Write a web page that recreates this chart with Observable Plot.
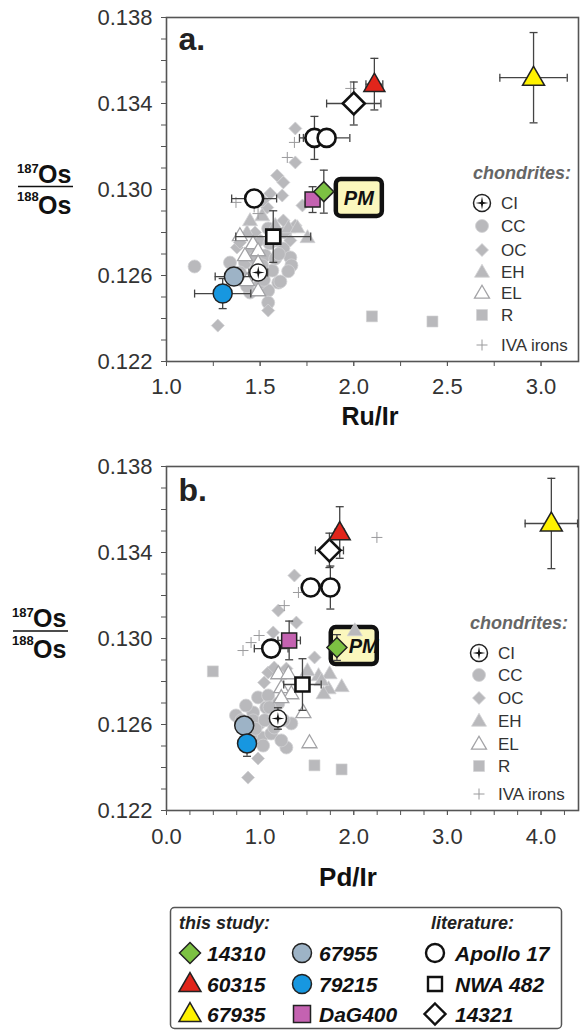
<!DOCTYPE html>
<html><head><meta charset="utf-8">
<script src="https://cdn.jsdelivr.net/npm/d3@7"></script>
<script src="https://cdn.jsdelivr.net/npm/@observablehq/plot@0.6"></script>
<style>
body{margin:0;background:#fff;}
#root{position:relative;width:580px;height:1034px;overflow:hidden;background:#fff;}
</style></head>
<body><div id="root"></div>
<script>
// ---------------- DATA ----------------
const sampleNames = ["14310","60315","67935","67955","79215","DaG400"];
// panel a (Ru/Ir)
const ruIr    = [1.84, 2.11, 2.96, 1.36, 1.30, 1.78];
const ruIrErr = [0.03, 0.045, 0.18, 0.10, 0.15, 0.03];
const osA     = [0.1299, 0.1349, 0.1352, 0.12595, 0.12516, 0.12953];
const osErrA  = [0.0010, 0.0012, 0.0021, 0.0003, 0.0007, 0.0006];
// panel b (Pd/Ir)
const pdIr    = [1.82, 1.85, 4.11, 0.83, 0.86, 1.31];
const pdIrErr = [0.03, 0.05, 0.28, 0.03, 0.03, 0.12];
const osB     = [0.12958, 0.13493, 0.13535, 0.12595, 0.12512, 0.12991];
const osErrB  = [0.0006, 0.0012, 0.0021, 0.0003, 0.0006, 0.0009];

// literature: Apollo 17 (x3), NWA 482, 14321
const litNames = ["Apollo 17","Apollo 17","Apollo 17","NWA 482","14321"];
const litRuIr    = [1.79, 1.855, 1.468, 1.57, 2.00];
const litRuIrErr = [0.08, 0.124, 0.12, 0.20, 0.145];
const litOsA     = [0.1324, 0.1324, 0.12958, 0.12781, 0.1340];
const litOsErrA  = [0.0010, 0, 0.0003, 0.0012, 0.0010];
const litPdIr    = [1.54, 1.75, 1.118, 1.452, 1.74];
const litPdIrErr = [0.05, 0.05, 0.18, 0.20, 0.15];
const litOsB     = [0.13237, 0.13237, 0.12953, 0.12786, 0.1341];
const litOsErrB  = [0, 0.0010, 0.0003, 0.0012, 0.0008];

// CI chondrite mean [ratio, ratioErr, Os, OsErr]
const ciA = [1.49, 0.05, 0.12614, 0.0003];
const ciB = [1.19, 0.08, 0.12628, 0.0005];

// primitive mantle label anchor [ratio, Os]
const pmA = [2.027, 0.12963];
const pmB = [2.00, 0.12967];

// chondrites, panel a: [Ru/Ir, 187Os/188Os]
const ccA = [[1.15,0.12642],[1.446,0.12521],[1.543,0.1253],[1.543,0.12474],[1.597,0.12567],[1.624,0.12726],[1.661,0.12684],[1.667,0.12647],[1.608,0.12572],[1.527,0.12693],[1.462,0.12716],[1.419,0.1266],[1.565,0.12623],[1.50,0.12567],[1.581,0.12763],[1.489,0.12763],[1.634,0.128],[1.543,0.12819],[1.392,0.12614],[1.339,0.1266],[1.511,0.12647],[1.581,0.12679],[1.473,0.12614],[1.43,0.1255],[1.60,0.1270],[1.55,0.1275],[1.65,0.1262],[1.52,0.1258],[1.47,0.1268]];
const ocA = [[1.688,0.13284],[1.688,0.13126],[1.591,0.13065],[1.624,0.13033],[1.618,0.12972],[1.554,0.12981],[1.538,0.12916],[1.516,0.12949],[1.624,0.12856],[1.688,0.12833],[1.726,0.12926],[1.376,0.1273],[1.392,0.12753],[1.543,0.12437],[1.274,0.12367],[1.473,0.128],[1.661,0.12763]];
const ehA = [[1.446,0.12856],[1.511,0.12879],[1.581,0.12833],[1.651,0.12823],[1.699,0.12823],[1.753,0.12777],[1.43,0.128]];
const elA = [[1.392,0.12786],[1.462,0.12749],[1.489,0.12716],[1.489,0.1266],[1.489,0.1253],[1.43,0.12577],[1.419,0.12693]];
const rA  = [[2.097,0.1241],[2.42,0.12386]];
const ivaA = [[1.984,0.1347],[1.683,0.13219],[1.645,0.13149],[1.468,0.12919],[1.371,0.1294],[1.489,0.12888]];

// chondrites, panel b: [Pd/Ir, 187Os/188Os]
const ccB = [[0.742,0.12642],[0.925,0.12656],[0.978,0.12726],[1.086,0.12735],[0.989,0.12605],[1.011,0.1254],[1.118,0.12558],[1.28,0.12493],[1.333,0.12605],[1.194,0.12698],[1.065,0.12679],[0.925,0.12619],[1.151,0.12586],[0.849,0.12688],[1.032,0.12502],[1.226,0.12526],[0.903,0.12549],[1.10,0.1268],[0.95,0.1258],[1.05,0.1262],[1.25,0.1262],[0.80,0.1262]];
const ocB = [[1.366,0.13293],[1.194,0.1313],[1.387,0.13074],[1.14,0.13028],[1.581,0.12912],[1.086,0.12842],[1.151,0.12865],[0.978,0.12442],[0.871,0.12353],[1.043,0.12795],[1.28,0.1286]];
const ehB = [[1.624,0.12828],[1.742,0.12837],[1.871,0.12777],[1.731,0.12767],[1.677,0.12744],[1.656,0.12805],[2.011,0.13037],[1.505,0.12851]];
const elB = [[1.527,0.12516],[1.194,0.12837],[1.301,0.12837],[1.226,0.12772],[1.333,0.12744],[1.462,0.12656],[1.226,0.12726]];
const rB  = [[0.495,0.12847],[1.58,0.1241],[1.87,0.12391]];
const ivaB = [[0.817,0.12944],[0.903,0.12981],[0.989,0.13014],[1.409,0.13214],[1.258,0.13153],[2.247,0.1347]];

// ticks
const yMajor = [0.122, 0.126, 0.130, 0.134, 0.138];
const xMajorA = [1.0, 1.5, 2.0, 2.5, 3.0];
const xMajorB = [0, 1, 2, 3, 4];
const chondriteLabels = ["CI","CC","OC","EH","EL","R","IVA irons"];

// ---------------- SYMBOLS ----------------
function tri(w){return {draw(c){const h=w*Math.sqrt(3)/2; c.moveTo(0,-h*0.6); c.lineTo(w/2,h*0.4); c.lineTo(-w/2,h*0.4); c.closePath();}};}
function dia(w){const r=w/2; return {draw(c){c.moveTo(0,-r);c.lineTo(r,0);c.lineTo(0,r);c.lineTo(-r,0);c.closePath();}};}
function sq(w){return {draw(c){c.moveTo(-w/2,-w/2);c.lineTo(w/2,-w/2);c.lineTo(w/2,w/2);c.lineTo(-w/2,w/2);c.closePath();}};}
function circ(r){return {draw(c){c.moveTo(r,0);c.arc(0,0,r,0,2*Math.PI);c.closePath();}};}
function plus(r){return {draw(c){c.moveTo(-r,0);c.lineTo(r,0);c.moveTo(0,-r);c.lineTo(0,r);}};}
function hbar(r){return {draw(c){c.moveTo(-r,0);c.lineTo(r,0);}};}
function vbar(r){return {draw(c){c.moveTo(0,-r);c.lineTo(0,r);}};}
function star4(R,r){return {draw(c){for(let k=0;k<8;k++){const a=k*Math.PI/4-Math.PI/2;const rr=k%2?r:R;const x=rr*Math.cos(a),y=rr*Math.sin(a);if(k)c.lineTo(x,y);else c.moveTo(x,y);}c.closePath();}};}
function rrect(w,h,rad){return {draw(c){const x0=-w/2,y0=-h/2,x1=w/2,y1=h/2;c.moveTo(x0+rad,y0);c.lineTo(x1-rad,y0);c.arcTo(x1,y0,x1,y0+rad,rad);c.lineTo(x1,y1-rad);c.arcTo(x1,y1,x1-rad,y1,rad);c.lineTo(x0+rad,y1);c.arcTo(x0,y1,x0,y1-rad,rad);c.lineTo(x0,y0+rad);c.arcTo(x0,y0,x0+rad,y0,rad);c.closePath();}};}

const FONT = '"Liberation Sans", Arial, Helvetica, sans-serif';
const GRAY = "#b9b9bc";
const sStyle = {
  "14310": {sym: dia(20), fill: "#7cc142"},
  "60315": {sym: tri(21), fill: "#e1251b"},
  "67935": {sym: tri(22), fill: "#fff200"},
  "67955": {sym: circ(9.5), fill: "#9db3c6"},
  "79215": {sym: circ(9.5), fill: "#1797e0"},
  "DaG400": {sym: sq(15), fill: "#c462b1"}
};
const litStyle = {"Apollo 17": circ(9), "NWA 482": sq(14), "14321": dia(22)};
const chondStyle = [
  {sym: circ(6.5), fill: GRAY, stroke: "#d2d2d4", sw: 0.8},
  {sym: dia(13), fill: GRAY, stroke: "#d2d2d4", sw: 0.8},
  {sym: tri(15), fill: GRAY, stroke: "#d2d2d4", sw: 0.8},
  {sym: tri(15), fill: "#fff", stroke: "#a3a3a6", sw: 1.3},
  {sym: sq(11), fill: GRAY, stroke: "#d2d2d4", sw: 0.6},
  {sym: plus(5.5), fill: "none", stroke: "#9a9a9c", sw: 1}
];

const root = document.getElementById("root");

function buildPanel(cfg){
  const rows = sampleNames.map((n,i)=>({n, x:cfg.x[i], xe:cfg.xe[i], y:cfg.y[i], ye:cfg.ye[i]}));
  const lit = litNames.map((n,i)=>({n, x:cfg.litX[i], xe:cfg.litXe[i], y:cfg.litY[i], ye:cfg.litYe[i]}));
  const ci = [{n:"CI", x:cfg.ci[0], xe:cfg.ci[1], y:cfg.ci[2], ye:cfg.ci[3]}];
  const all = [...lit, ...ci, ...rows];
  const pts = arr => arr.map(([x,y])=>({x,y}));
  const cats = [cfg.CC, cfg.OC, cfg.EH, cfg.EL, cfg.R, cfg.IVA];
  const yMinor = d3.range(122,139).map(v=>v/1000);
  const EB = "#444";
  const marks = [
    Plot.frame({stroke:"#555", strokeWidth:1.6}),
    Plot.axisY({ticks:yMinor, tickSize:5, tickFormat:()=>"", label:null, stroke:"#555"}),
    Plot.axisY({ticks:yMajor, tickSize:5, tickPadding:9, tickFormat:d3.format(".3f"), label:null, stroke:"#555"}),
    Plot.axisX({ticks:cfg.xMinor, tickSize:5, tickFormat:()=>"", label:null, stroke:"#555"}),
    Plot.axisX({ticks:cfg.xMajor, tickSize:5, tickPadding:cfg.xPad, tickFormat:d3.format(".1f"), label:null, stroke:"#555"}),
    Plot.dot([{x:cfg.pm[0], y:cfg.pm[1]}], {x:"x", y:"y", symbol:rrect(46,37,5), fill:"#fbf7bd", stroke:"#111", strokeWidth:4.5}),
  ];
  cats.forEach((arr,k)=>{
    const s = chondStyle[k];
    marks.push(Plot.dot(pts(arr), {x:"x", y:"y", symbol:s.sym, fill:s.fill, stroke:s.stroke, strokeWidth:s.sw}));
  });
  // error bars
  marks.push(Plot.ruleY(all.filter(d=>d.xe>0), {y:"y", x1:d=>d.x-d.xe, x2:d=>d.x+d.xe, stroke:EB, strokeWidth:1.3}));
  marks.push(Plot.ruleX(all.filter(d=>d.ye>0), {x:"x", y1:d=>d.y-d.ye, y2:d=>d.y+d.ye, stroke:EB, strokeWidth:1.3}));
  marks.push(Plot.dot(all.filter(d=>d.xe>0).flatMap(d=>[{x:d.x-d.xe,y:d.y},{x:d.x+d.xe,y:d.y}]), {x:"x", y:"y", symbol:vbar(4), fill:"none", stroke:EB, strokeWidth:1.3}));
  marks.push(Plot.dot(all.filter(d=>d.ye>0).flatMap(d=>[{x:d.x,y:d.y-d.ye},{x:d.x,y:d.y+d.ye}]), {x:"x", y:"y", symbol:hbar(4), fill:"none", stroke:EB, strokeWidth:1.3}));
  // literature symbols
  lit.forEach(d=>{
    marks.push(Plot.dot([d], {x:"x", y:"y", symbol:litStyle[d.n], fill:"#fff", stroke:"#111", strokeWidth:2.6}));
  });
  marks.push(Plot.dot(ci, {x:"x", y:"y", symbol:circ(8.5), fill:"#fff", stroke:"#222", strokeWidth:1.5}));
  marks.push(Plot.dot(ci, {x:"x", y:"y", symbol:star4(6.5,1.5), fill:"#111", stroke:"none"}));
  // this study samples
  cfg.order.forEach(n=>{
    const d = rows.find(r=>r.n===n);
    marks.push(Plot.dot([d], {x:"x", y:"y", symbol:sStyle[n].sym, fill:sStyle[n].fill, stroke:"#222", strokeWidth:1.5}));
  });
  marks.push(Plot.text([{x:cfg.pm[0], y:cfg.pm[1]}], {x:"x", y:"y", text:()=>"PM", dx:cfg.pmDx, dy:1, fontSize:20, fontWeight:"bold", fontStyle:"italic", fill:"#111"}));
  marks.push(Plot.text([cfg.label], {text:d=>d, frameAnchor:"top-left", dx:12, dy:cfg.labelDy, fontSize:32, fontWeight:"bold", fill:"#222"}));

  const svg = Plot.plot({
    width:580, height:cfg.height,
    marginLeft:166, marginRight:2, marginTop:cfg.mt, marginBottom:cfg.mb,
    x:{domain:cfg.xDomain}, y:{domain:[0.122,0.138]},
    style:{fontFamily:FONT, fontSize:"22px", color:"#333", overflow:"visible", background:"transparent"},
    marks
  });
  svg.style.position = "absolute";
  svg.style.left = "0px";
  svg.style.top = cfg.top + "px";
  root.appendChild(svg);
}

buildPanel({
  top:0, height:400, mt:17, mb:39, xDomain:[1.0,3.2], xPad:12,
  xMajor:xMajorA, xMinor:d3.range(4,13).map(v=>v/4),
  x:ruIr, xe:ruIrErr, y:osA, ye:osErrA,
  litX:litRuIr, litXe:litRuIrErr, litY:litOsA, litYe:litOsErrA, ci:ciA, pm:pmA, pmDx:0,
  CC:ccA, OC:ocA, EH:ehA, EL:elA, R:rA, IVA:ivaA,
  order:["DaG400","14310","67955","79215","60315","67935"],
  label:"a.", labelDy:10
});
buildPanel({
  top:440, height:420, mt:26, mb:50, xDomain:[0,4.4], xPad:13,
  xMajor:xMajorB, xMinor:d3.range(0,18).map(v=>v/4),
  x:pdIr, xe:pdIrErr, y:osB, ye:osErrB,
  litX:litPdIr, litXe:litPdIrErr, litY:litOsB, litYe:litOsErrB, ci:ciB, pm:pmB, pmDx:10,
  CC:ccB, OC:ocB, EH:ehB, EL:elB, R:rB, IVA:ivaB,
  order:["14310","DaG400","67955","79215","60315","67935"],
  label:"b.", labelDy:12
});

// ---------------- OVERLAY (titles and legends) ----------------
const ov = d3.select(root).append("svg")
  .attr("width",580).attr("height",1034)
  .style("position","absolute").style("left","0px").style("top","0px")
  .style("font-family",FONT);

function drawSym(g, sym, x, y, fill, stroke, sw){
  const p = d3.path(); sym.draw(p);
  g.append("path").attr("d", p.toString()).attr("transform",`translate(${x},${y})`)
    .attr("fill",fill).attr("stroke",stroke).attr("stroke-width",sw);
}

// y-axis fraction labels
function fraction(x, lineY){
  const g = ov.append("g").attr("fill","#111");
  g.append("text").attr("x",x).attr("y",lineY-14).attr("font-size",13).attr("font-weight","bold").text("187");
  g.append("text").attr("x",x+21).attr("y",lineY-4).attr("font-size",25).attr("font-weight","bold").text("Os");
  g.append("line").attr("x1",x+1).attr("x2",x+56).attr("y1",lineY).attr("y2",lineY).attr("stroke","#111").attr("stroke-width",1.6);
  g.append("text").attr("x",x).attr("y",lineY+14).attr("font-size",13).attr("font-weight","bold").text("188");
  g.append("text").attr("x",x+21).attr("y",lineY+27).attr("font-size",25).attr("font-weight","bold").text("Os");
}
fraction(17, 186.5);
fraction(12, 631);

// x-axis titles
ov.append("text").attr("x",370).attr("y",425).attr("text-anchor","middle").attr("font-size",25).attr("font-weight","bold").attr("fill","#111").text("Ru/Ir");
ov.append("text").attr("x",348).attr("y",886).attr("text-anchor","middle").attr("font-size",26).attr("font-weight","bold").attr("fill","#111").text("Pd/Ir");

// chondrite legends inside each panel
function chondLegend(x0, symX, textX, headY, rowsY){
  const g = ov.append("g");
  g.append("text").attr("x",x0).attr("y",headY+6).attr("font-size",18).attr("font-weight","bold").attr("font-style","italic").attr("fill","#666").text("chondrites:");
  chondriteLabels.forEach((lab,i)=>{
    const y = rowsY[i];
    if(i===0){
      drawSym(g, circ(8.5), symX, y, "#fff", "#222", 1.5);
      drawSym(g, star4(6.5,1.5), symX, y, "#111", "none", 0);
    } else {
      const s = chondStyle[i-1];
      drawSym(g, s.sym, symX, y, s.fill, s.stroke, s.sw);
    }
    g.append("text").attr("x",textX).attr("y",y+6).attr("font-size",17).attr("fill","#333").text(lab);
  });
}
chondLegend(473, 482, 501, 173, [203,226,250,272,293,315,345]);
chondLegend(470, 479, 498, 623, [653,675,698,721,744,766,794]);

// bottom legend box
const lg = ov.append("g");
lg.append("rect").attr("x",170.5).attr("y",907.5).attr("width",391).attr("height",121).attr("rx",4)
  .attr("fill","#fff").attr("stroke","#555").attr("stroke-width",1.5);
lg.append("text").attr("x",179).attr("y",929).attr("font-size",18).attr("font-weight","bold").attr("font-style","italic").attr("fill","#222").text("this study:");
lg.append("text").attr("x",431).attr("y",929).attr("font-size",18).attr("font-weight","bold").attr("font-style","italic").attr("fill","#222").text("literature:");
const legRowsY = [953, 984, 1014];
const legCol1 = ["14310","60315","67935"], legCol2 = ["67955","79215","DaG400"], legCol3 = ["Apollo 17","NWA 482","14321"];
const legSyms = {"14310":dia(21),"60315":tri(22),"67935":tri(22),"67955":circ(9.5),"79215":circ(9.5),"DaG400":sq(17),
                 "Apollo 17":circ(9),"NWA 482":sq(14),"14321":dia(21)};
function legItem(name, sx, tx, y, fill, stroke, sw){
  drawSym(lg, legSyms[name], sx, y, fill, stroke, sw);
  lg.append("text").attr("x",tx).attr("y",y+7.5).attr("font-size",21).attr("font-weight","bold").attr("font-style","italic").attr("fill","#111").text(name);
}
legCol1.forEach((n,i)=>legItem(n,190,207,legRowsY[i],sStyle[n].fill,"#222",1.5));
legCol2.forEach((n,i)=>legItem(n,302,319,legRowsY[i],sStyle[n].fill,"#222",1.5));
legCol3.forEach((n,i)=>legItem(n,435,455,legRowsY[i],"#fff","#111",2.4));
</script>
</body></html>
